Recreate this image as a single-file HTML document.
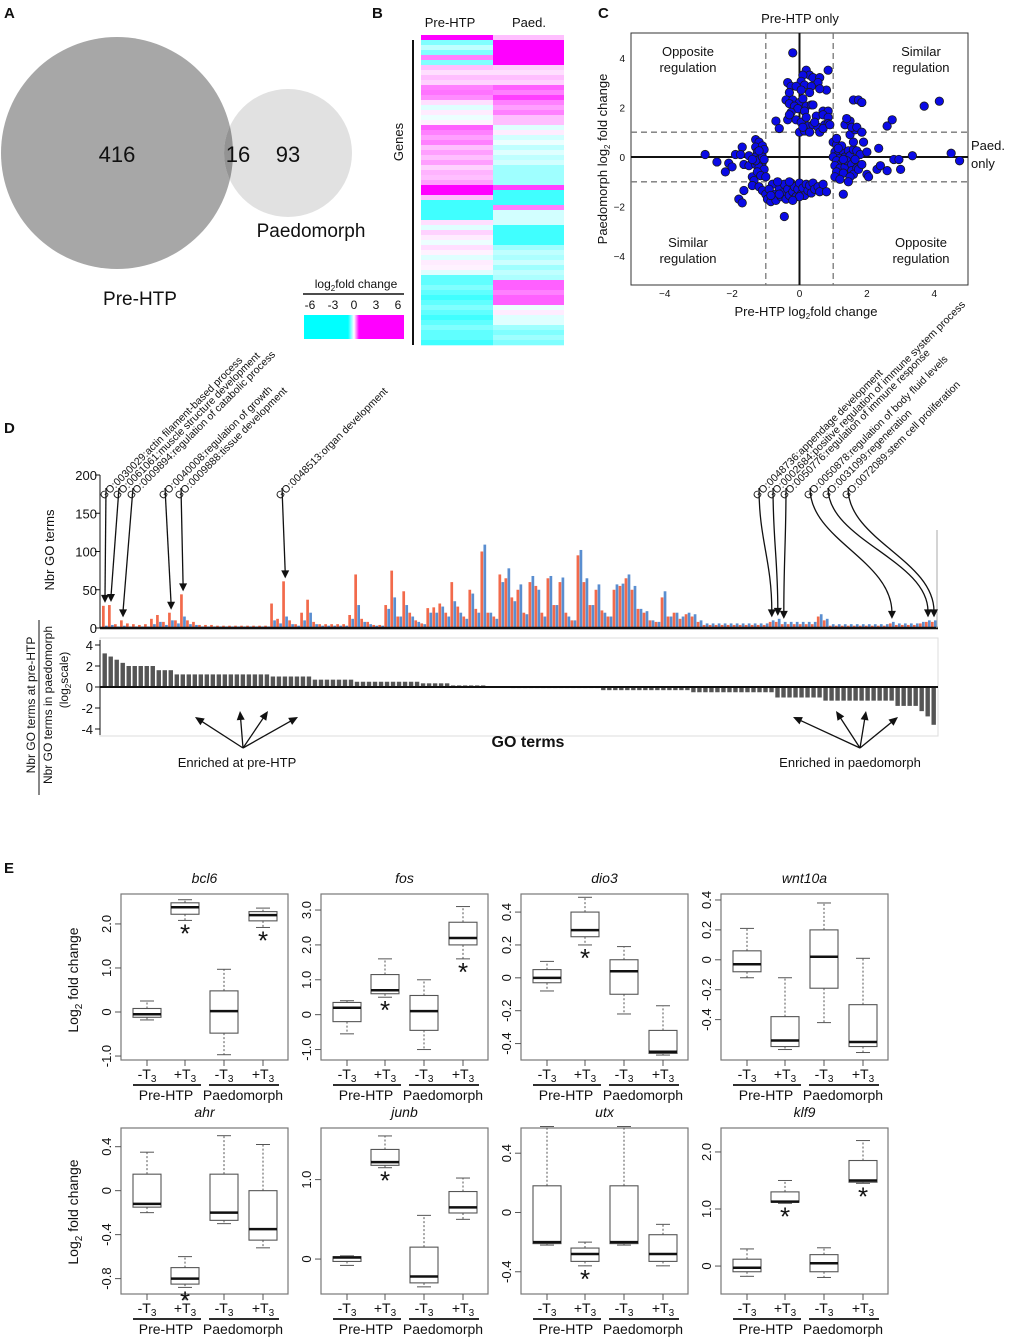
<!DOCTYPE html>
<html><head><meta charset="utf-8"><style>
body{margin:0;background:#fff;}
svg{display:block;font-family:"Liberation Sans",sans-serif;}
text{fill:#111;}
</style></head><body>
<svg id="fig" width="1010" height="1339" viewBox="0 0 1010 1339">
<defs>
<clipPath id="bigclip"><circle cx="117" cy="153" r="116"/></clipPath>
<linearGradient id="cbar" x1="0" x2="1" y1="0" y2="0">
<stop offset="0" stop-color="#00ffff"/><stop offset="0.44" stop-color="#00ffff"/><stop offset="0.5" stop-color="#ffffff"/><stop offset="0.55" stop-color="#ff00ff"/><stop offset="1" stop-color="#ff00ff"/>
</linearGradient>
</defs>
<text x="4" y="18" font-size="15" font-weight="bold">A</text>
<text x="372" y="18" font-size="15" font-weight="bold">B</text>
<text x="598" y="18" font-size="15" font-weight="bold">C</text>
<text x="4" y="433" font-size="15" font-weight="bold">D</text>
<text x="4" y="873" font-size="15" font-weight="bold">E</text>

<g>
<circle cx="117" cy="153" r="116" fill="#a7a7a7"/>
<circle cx="288" cy="153" r="64" fill="#e1e1e1"/>
<circle cx="288" cy="153" r="64" fill="#939393" clip-path="url(#bigclip)"/>
<text x="117" y="162" font-size="22" text-anchor="middle">416</text>
<text x="238" y="162" font-size="22" text-anchor="middle">16</text>
<text x="288" y="162" font-size="22" text-anchor="middle">93</text>
<text x="311" y="237" font-size="19" text-anchor="middle">Paedomorph</text>
<text x="140" y="305" font-size="19" text-anchor="middle">Pre-HTP</text>
</g>

<text x="450" y="27" font-size="13" text-anchor="middle">Pre-HTP</text>
<text x="529" y="27" font-size="13" text-anchor="middle">Paed.</text>
<line x1="413" y1="40" x2="413" y2="345" stroke="#111" stroke-width="2"/>
<text transform="translate(403,142) rotate(-90)" font-size="13" text-anchor="middle">Genes</text>
<g id="heatmap"></g>
<text x="356" y="288" font-size="12" text-anchor="middle">log<tspan font-size="8" dy="3">2</tspan><tspan dy="-3">fold change</tspan></text>
<line x1="303" y1="294" x2="404" y2="294" stroke="#111" stroke-width="1.5"/>
<g font-size="12" text-anchor="middle">
<text x="310" y="309">-6</text><text x="333" y="309">-3</text><text x="354" y="309">0</text><text x="376" y="309">3</text><text x="398" y="309">6</text>
</g>
<rect x="304" y="315" width="100" height="24" fill="url(#cbar)"/>

<text x="800" y="23" font-size="13" text-anchor="middle">Pre-HTP only</text>
<text x="971" y="150" font-size="13">Paed.</text>
<text x="971" y="168" font-size="13">only</text>
<text x="806" y="316" font-size="13" text-anchor="middle">Pre-HTP log<tspan font-size="8" dy="3">2</tspan><tspan dy="-3">fold change</tspan></text>
<text transform="translate(607,159) rotate(-90)" font-size="13" text-anchor="middle">Paedomorph log<tspan font-size="8" dy="3">2</tspan><tspan dy="-3"> fold change</tspan></text>
<g font-size="13" text-anchor="middle">
<text x="688" y="56">Opposite</text><text x="688" y="72">regulation</text>
<text x="921" y="56">Similar</text><text x="921" y="72">regulation</text>
<text x="688" y="247">Similar</text><text x="688" y="263">regulation</text>
<text x="921" y="247">Opposite</text><text x="921" y="263">regulation</text>
</g>
<g id="scatter"></g>

<text transform="translate(54,550) rotate(-90)" font-size="13" text-anchor="middle">Nbr GO terms</text>
<g font-size="12" text-anchor="middle">
<text transform="translate(35,705) rotate(-90)">Nbr GO terms at pre-HTP</text>
<line x1="39" y1="620" x2="39" y2="795" stroke="#111" stroke-width="1"/>
<text transform="translate(52,705) rotate(-90)">Nbr GO terms in paedomorph</text>
<text transform="translate(68,680) rotate(-90)">(log<tspan font-size="8" dy="3">2</tspan><tspan dy="-3">scale)</tspan></text>
</g>
<g id="gochart"></g>
<text x="528" y="747" font-size="16" font-weight="bold" text-anchor="middle">GO terms</text>
<text x="237" y="767" font-size="13" text-anchor="middle">Enriched at pre-HTP</text>
<text x="850" y="767" font-size="13" text-anchor="middle">Enriched in paedomorph</text>

<text transform="translate(78,980) rotate(-90)" font-size="14" text-anchor="middle">Log<tspan font-size="10" dy="4">2</tspan><tspan dy="-4"> fold change</tspan></text>
<text transform="translate(78,1212) rotate(-90)" font-size="14" text-anchor="middle">Log<tspan font-size="10" dy="4">2</tspan><tspan dy="-4"> fold change</tspan></text>
<g id="boxes"></g>
</svg>
<script>
const heatPre = [4,-2,-1,-2,2,-2,1,0.5,1,0.7,2,2.2,1.8,0.5,-0.5,0.3,-0.3,0.2,2.5,2,1.5,2,1,1.5,1,1.5,0.7,1.2,1,1.5,4,4,1,-3,-3,-3,-3,0.5,-0.5,0.7,0.3,-0.3,0.5,0.2,-0.5,0.3,0.2,-0.5,-2.5,-2.5,-2,-2.5,-3,-2.5,-2,-2.5,-3,-2.5,-2,-2.5,-2.5,-3];
const heatPaed = [1,4,4,4,4,4,0.8,0.5,1,0.7,2.5,2,3,2,1.5,2,1,1,-0.5,0.3,-0.7,-0.3,-1,-0.5,-1,-0.7,-1.5,-1.5,-1.5,-1.5,3,-3,-3,-3,2,-0.7,-0.7,-0.7,-3,-3,-3,-3,-1.5,-1,-1.3,-0.8,-1.5,-1,-1.3,2.5,2.5,2,2.5,2.5,-0.3,0.3,-0.5,-0.5,-1.5,-2,-1.5,-2];

const scatterX = [-0.2,0.2,0.85,0.3,0.1,0.4,0.6,-0.35,0.05,0.55,-0.25,-0.1,0.15,0.35,0.8,-0.3,0.05,0.3,0.6,-0.4,-0.2,0,0.1,-0.3,-0.15,0.2,0.35,-0.05,-0.25,0.15,0.4,0.7,0.85,-0.7,-0.35,-0.1,0.05,0.2,0.5,0.7,0.85,-0.6,0.25,0.4,0.55,0.75,0.85,0,0.15,0.3,0.6,0.7,0.9,0.1,0.45,-0.3,
-2.8,-2.45,-2.2,-2.1,-2,-1.9,-1.7,-1.75,-1.65,-1.5,-1.5,-1.4,-1.35,-1.8,-1.7,-1.65,-1.3,-1.2,-1.3,-1.1,-1.25,-1.15,-1.05,-1.3,-1.2,-1.1,-1.3,-1.2,-1.05,-1.25,-1.15,-1,-1.3,-1.1,-1.2,-1.05,-1.4,
-1.4,-1.2,-1.1,-1,-0.95,-0.85,-0.75,-0.7,-0.6,-0.55,-0.5,-0.45,-0.4,-0.35,-0.3,-0.25,-0.2,-0.15,-0.1,-0.05,0,0.05,0.1,0.15,0.2,0.25,0.3,0.35,0.4,0.45,0.55,0.6,0.7,0.8,-0.8,-0.65,-0.9,-0.45,-0.3,-0.6,0,-0.85,-0.2,
1,1.1,1.2,1.05,1.15,1.3,1,1.2,1.35,1.1,1.25,1.05,1.2,1.35,1.1,1.3,1.05,1.2,1.45,1.5,1.4,1.55,1.6,1.7,1.8,1.65,1.55,1.7,1.6,1.5,1.45,1.3,1.9,2,2,2.05,1.75,1.85,1.6,1.5,1.65,1.35,1.5,1.4,1.55,1.7,1.85,1.6,1.75,1.85,2.3,2.35,2.4,2.6,2.6,2.75,2.8,2.95,3,3.35,3.7,4.15,4.5,4.75,1.25,1.15,1.3,1.1];
const scatterY = [4.2,3.5,3.5,3.3,3.3,3.2,3.2,3,3.05,3,2.85,2.85,2.9,2.85,2.7,2.6,2.7,2.6,2.75,2.3,2.3,2.2,2.35,2.15,2.05,2.05,2.1,1.95,1.8,1.85,2.1,1.85,1.85,1.45,1.5,1.5,1.4,1.6,1.65,1.7,1.6,1.15,1.25,1.3,1.2,1.3,1.35,1,1.05,1,1,1.15,1.3,1.2,1.4,1.7,
0.1,-0.2,-0.6,-0.25,-0.4,0.1,0.4,0.1,-0.3,-0.35,0.05,-0.8,-0.95,-1.7,-1.85,-1.35,0.7,0.6,0.4,0.45,0.2,0.1,0.3,0,-0.1,-0.2,-0.3,-0.4,-0.5,-0.6,-0.75,-0.8,-0.15,0,0.25,-0.1,-0.1,
-1.15,-1.2,-1.35,-1.5,-1.7,-1.8,-1.5,-1.75,-1.25,-1.6,-1.45,-1.1,-1.7,-1.3,-1.55,-1.05,-1.4,-1.2,-1.6,-1.3,-1.05,-1.5,-1.25,-1.55,-1.1,-1.35,-1.15,-1.45,-1.05,-1.3,-1.2,-1.4,-1.1,-1.4,-1.1,-1,-1.3,-2.4,-1,-1.5,-1.6,-1.55,-1.75,
0.6,0.5,0.3,0.2,0.1,0.2,0,-0.05,0,-0.15,-0.25,-0.35,-0.45,-0.4,-0.6,-0.65,-0.8,-0.9,0.25,0.05,-0.15,-0.3,0.3,0.25,0.1,-0.1,-0.55,-0.45,-0.7,-0.8,-1,-1.5,0.6,0.2,-0.7,-0.8,-0.5,-0.3,0.6,0.9,1.1,1.3,1.45,1.55,1.2,1.2,1,2.3,2.3,2.2,-0.5,0.35,-0.35,-0.55,1.25,1.5,-0.1,-0.1,-0.5,0.05,2.05,2.25,0.15,-0.15,0.45,0.35,-0.1,0.75];
const scatterTicks = [-4,-2,0,2,4];

const goOrange = [29,30,5,10,6,5,4,5,12,17,8,20,10,44,10,8, 4,4,4,3,3,3,3,3,3,3,3,3, 32,12,61,10,5,20,37,8, 5,5,5,5,5, 17,70,12,8,4,4, 30,75,15,48,20,10,6,26,27,32,20,60,28,15,50,25, 100,20,15,70,65,40,50,20,60,55,20,65,30,60,20,10, 95,60,30,50,23,15,50,55,65,50,25,20,10,8,40,15,20,12,18,15,8, 4,4,4,4,4,4,4,4,4,4,4, 8,8,5,5,5,5,5,5, 15,10, 3,3,3,3,3,3,3,3,3,3, 6,4,4,4,4,6,8,8];
const goBlue = [3,4,2,3,2,2,2,2,5,8,4,10,6,15,5,4, 2,2,2,2,2,2,2,2,2,2,2,2, 10,6,15,5,3,10,20,5, 3,3,3,3,3, 12,30,8,5,3,3, 25,40,15,30,15,8,5,20,20,28,15,35,20,12,45,20, 109,20,12,60,78,35,57,18,68,50,15,68,30,66,15,10, 102,65,30,57,20,15,57,58,70,55,25,22,10,8,48,15,20,15,20,18,10, 6,6,6,6,6,6,6,6,6,6,6, 10,12,8,8,8,8,8,8, 18,12, 5,5,5,5,5,5,5,5,5,5, 8,6,6,6,6,8,10,10];
const goRatio = [3.2,2.9,2.6,2.3,2,2,2,2,2, 1.6,1.6,1.6, 1.2,1.2,1.2,1.2,1.2,1.2,1.2,1.2,1.2,1.2,1.2,1.2,1.2,1.2,1.2,1.2, 1,1,1,1,1,1,1, 0.7,0.7,0.7,0.7,0.7,0.7,0.7, 0.5,0.5,0.5,0.5,0.5,0.5,0.5,0.5,0.5,0.5,0.5, 0.35,0.35,0.35,0.35,0.35, 0.15,0.15,0.15,0.15,0.15,0.15, 0.03,0.03,0.03,0.03, -0.1,-0.1,-0.1,-0.1,-0.1,-0.1,-0.1,-0.1,-0.1,-0.1,-0.1,-0.1,-0.1,-0.1,-0.1, -0.3,-0.3,-0.3,-0.3,-0.3,-0.3,-0.3,-0.3,-0.3,-0.3,-0.3,-0.3,-0.3,-0.3,-0.3, -0.5,-0.5,-0.5,-0.5,-0.5,-0.5,-0.5,-0.5,-0.5,-0.5,-0.5,-0.5,-0.5,-0.5, -1,-1,-1,-1,-1,-1,-1,-1, -1.3,-1.3,-1.3,-1.3,-1.3,-1.3,-1.3,-1.3,-1.3,-1.3,-1.3,-1.3, -1.8,-1.8,-1.8,-1.8, -2.3,-2.8,-3.6];
const goCountTicks = [0,50,100,150,200];
const goRatioTicks = [-4,-2,0,2,4];
const goLabels = ["GO:0030029:actin filament-based process","GO:0061061:muscle structure development","GO:0009894:regulation of catabolic process","GO:0040008:regulation of growth","GO:0009888:tissue development","GO:0048513:organ development","GO:0048736:appendage development","GO:0002684:positive regulation of immune system process","GO:0050776:regulation of immune response","GO:0050878:regulation of body fluid levels","GO:0031099:regeneration","GO:0072089:stem cell proliferation"];
const goLabelIndex = [0,1,3,11,13,30,111,112,113,131,137,138];

const boxGenes = ["bcl6","fos","dio3","wnt10a","ahr","junb","utx","klf9"];
const boxYlim = [[-1.09,2.68],[-1.3,3.46],[-0.5,0.51],[-0.67,0.44],[-0.94,0.57],[-0.44,1.65],[-0.55,0.57],[-0.49,2.42]];
const boxTicks = [[-1,0,1,2],[-1,0,1,2,3],[-0.4,-0.2,0,0.2,0.4],[-0.4,-0.2,0,0.2,0.4],[-0.8,-0.4,0,0.4],[0,1],[-0.4,0,0.4],[0,1,2]];
const boxTickLabels = [["-1.0","0","1.0","2.0"],["-1.0","0","1.0","2.0","3.0"],["-0.4","-0.2","0","0.2","0.4"],["-0.4","-0.2","0","0.2","0.4"],["-0.8","-0.4","0","0.4"],["0","1.0"],["-0.4","0","0.4"],["0","1.0","2.0"]];
const boxStats = [
 [[-0.18,-0.12,-0.05,0.08,0.25],[2.08,2.22,2.38,2.48,2.55],[-0.97,-0.48,0.02,0.48,0.97],[1.92,2.07,2.2,2.28,2.36]],
 [[-0.55,-0.2,0.2,0.35,0.4],[0.5,0.6,0.7,1.15,1.6],[-1,-0.45,0.1,0.55,1],[1.6,2,2.2,2.65,3.1]],
 [[-0.08,-0.03,0,0.05,0.1],[0.2,0.25,0.29,0.4,0.49],[-0.22,-0.1,0.04,0.11,0.19],[-0.47,-0.46,-0.45,-0.32,-0.17]],
 [[-0.12,-0.08,-0.03,0.06,0.21],[-0.6,-0.58,-0.54,-0.38,-0.12],[-0.42,-0.19,0.02,0.2,0.38],[-0.62,-0.58,-0.55,-0.3,0.01]],
 [[-0.2,-0.15,-0.12,0.15,0.35],[-0.88,-0.85,-0.8,-0.7,-0.6],[-0.3,-0.27,-0.2,0.15,0.5],[-0.52,-0.45,-0.35,0,0.42]],
 [[-0.08,-0.03,0.02,0.03,0.04],[1.15,1.18,1.22,1.38,1.55],[-0.35,-0.3,-0.22,0.15,0.55],[0.5,0.58,0.65,0.85,1.02]],
 [[-0.22,-0.21,-0.2,0.18,0.58],[-0.36,-0.33,-0.28,-0.24,-0.2],[-0.22,-0.21,-0.2,0.18,0.58],[-0.36,-0.33,-0.28,-0.15,-0.08]],
 [[-0.18,-0.1,-0.03,0.12,0.3],[1.1,1.12,1.13,1.3,1.5],[-0.2,-0.1,0.05,0.2,0.32],[1.45,1.47,1.5,1.85,2.2]]];
const boxStars = [[1,3],[1,3],[1],[],[1],[1],[1],[1,3]];

const NS="http://www.w3.org/2000/svg";
function mk(parent, tag, attrs, txt){const e=document.createElementNS(NS,tag);for(const k in attrs)e.setAttribute(k,attrs[k]);if(txt!==undefined)e.textContent=txt;parent.appendChild(e);return e;}
function heatColor(v){const t=Math.min(Math.abs(v)/4,1);const c=Math.round(255*(1-t));return v>=0?`rgb(255,${c},255)`:`rgb(${c},255,255)`;}

const hm=document.getElementById('heatmap');
const rowH=310/heatPre.length;
heatPre.forEach((v,i)=>{
 const r=mk(hm,'rect',{x:421,y:35+i*rowH,width:72,height:rowH+0.3,fill:heatColor(v)});
 
 
});
heatPaed.forEach((v,i)=>{
 const r=mk(hm,'rect',{x:493,y:35+i*rowH,width:71,height:rowH+0.3,fill:heatColor(v)});
 
 
});

const sc=document.getElementById('scatter');
const sx=v=>799.5+v*33.7, sy=v=>157-v*24.8;
const frame=mk(sc,'rect',{x:631,y:33,width:337,height:252,fill:'none',stroke:'#333','stroke-width':1});


[-1,1].forEach(v=>{
 const l1=mk(sc,'line',{x1:sx(v),x2:sx(v),y1:33,y2:285,stroke:'#777','stroke-dasharray':'6,4','stroke-width':1.3});
 
 
 const l2=mk(sc,'line',{x1:631,x2:968,y1:sy(v),y2:sy(v),stroke:'#777','stroke-dasharray':'6,4','stroke-width':1.3});
 
 
});
const ax0=mk(sc,'line',{x1:sx(0),x2:sx(0),y1:33,y2:285,stroke:'#111','stroke-width':2});


const ay0=mk(sc,'line',{x1:631,x2:968,y1:sy(0),y2:sy(0),stroke:'#111','stroke-width':2});


scatterTicks.forEach(t=>{
 const tx=mk(sc,'text',{x:sx(t),y:297,'font-size':10,'text-anchor':'middle'},t<0?'\u2212'+(-t):String(t));
 
 
 const ty=mk(sc,'text',{x:625,y:sy(t)+4,'font-size':10,'text-anchor':'end'},t<0?'\u2212'+(-t):String(t));
 
 
});
scatterX.forEach((x,i)=>{
 const c=mk(sc,'circle',{cx:sx(x),cy:sy(scatterY[i]),r:4.2,fill:'#0a0ae6',stroke:'#1a1a1a','stroke-width':0.8});
 
 
});

const gc=document.getElementById('gochart');
const x0=102, bw=835/goOrange.length;
const cy=v=>628-v*0.765, ry=v=>687-v*10.5;
const yax=mk(gc,'line',{x1:100,x2:100,y1:475,y2:628,stroke:'#111','stroke-width':1});


goCountTicks.forEach(t=>{
 const tl=mk(gc,'line',{x1:95,x2:100,y1:cy(t),y2:cy(t),stroke:'#111'});
 
 
 const tt=mk(gc,'text',{x:97,y:cy(t)+5,'font-size':13,'text-anchor':'end'},String(t));
 
 
});
goOrange.forEach((v,i)=>{
 const b=mk(gc,'rect',{x:x0+i*bw,y:cy(v),width:bw*0.45,height:v*0.765,fill:'#f26a4b'});
 
 
 const b2=mk(gc,'rect',{x:x0+i*bw+bw*0.5,y:cy(goBlue[i]),width:bw*0.45,height:goBlue[i]*0.765,fill:'#5a8ed0'});
 
 
});
const base=mk(gc,'line',{x1:100,x2:938,y1:628,y2:628,stroke:'#111','stroke-width':2.5});


const rgl=mk(gc,'line',{x1:937,x2:937,y1:530,y2:628,stroke:'#aaa','stroke-width':1});


const rframe=mk(gc,'rect',{x:100,y:638,width:838,height:98,fill:'none',stroke:'#ddd','stroke-width':1});


const rax=mk(gc,'line',{x1:100,x2:100,y1:640,y2:735,stroke:'#111','stroke-width':1});


goRatioTicks.forEach(t=>{
 const tl=mk(gc,'line',{x1:95,x2:100,y1:ry(t),y2:ry(t),stroke:'#111'});
 
 
 const tt=mk(gc,'text',{x:93,y:ry(t)+5,'font-size':13,'text-anchor':'end'},String(t));
 
 
});
goRatio.forEach((v,i)=>{
 const b=mk(gc,'rect',{x:x0+i*bw+0.5,y:Math.min(ry(v),ry(0)),width:bw-1.6,height:Math.abs(v)*10.5,fill:'#555'});
 
 
});
const rbase=mk(gc,'line',{x1:100,x2:938,y1:687,y2:687,stroke:'#111','stroke-width':2});


const labelX=[104,117,131,163,179,280,757,771,784,808,826,846];
goLabels.forEach((s,k)=>{
 const t=mk(gc,'text',{transform:`translate(${labelX[k]},500) rotate(-45)`,'font-size':10.5},s);
 
 
 const idx=goLabelIndex[k];
 const tipX=x0+idx*bw+bw/2, tipY=Math.min(cy(goOrange[idx]),cy(goBlue[idx]))-3;
 const sxp=labelX[k]+2;
 const d=k<6?`M${sxp},488 L${tipX},${tipY-6}`:`M${sxp},488 C${sxp},540 ${tipX},560 ${tipX},${tipY-6}`;
 const p=mk(gc,'path',{d:d,fill:'none',stroke:'#111','stroke-width':1.3});
 
 
 const h=mk(gc,'path',{d:`M${tipX-4},${tipY-8} L${tipX+4},${tipY-8} L${tipX},${tipY} Z`,fill:'#111'});
 
 
});
[[243,748,[[195,717],[240,711],[268,711],[298,717]]],[860,748,[[793,717],[836,711],[866,711],[898,717]]]].forEach(g=>{
 g[2].forEach(pt=>{
  const dx=pt[0]-g[0], dy=pt[1]-g[1], L=Math.hypot(dx,dy), ux=dx/L, uy=dy/L;
  const l=mk(gc,'line',{x1:g[0],y1:g[1],x2:pt[0]-ux*4,y2:pt[1]-uy*4,stroke:'#111','stroke-width':1.3});
  
  
  const bx=pt[0]-ux*9, by=pt[1]-uy*9;
  const hd=mk(gc,'path',{d:`M${pt[0]},${pt[1]} L${bx-uy*4},${by+ux*4} L${bx+uy*4},${by-ux*4} Z`,fill:'#111'});
  
  
 });
});

const bx=document.getElementById('boxes');
const boxOff=[26,64,103,142];
boxGenes.forEach((g,p)=>{
 const px=121+(p%4)*200, py=p<4?894:1128, W=167, H=166;
 const [y0,y1]=boxYlim[p];
 const ys=v=>py+H-(v-y0)/(y1-y0)*H;
 const grp=mk(bx,'g',{});
 
 
 const fr=mk(grp,'rect',{x:px,y:py,width:W,height:H,fill:'none',stroke:'#777','stroke-width':1.2});
 
 
 const ti=mk(grp,'text',{x:px+W/2,y:py-11,'font-size':14,'font-style':'italic','text-anchor':'middle'},g);
 
 
 boxTicks[p].forEach((t,j)=>{
  const tl=mk(grp,'line',{x1:px-6,x2:px,y1:ys(t),y2:ys(t),stroke:'#555'});
  
  
  const tt=mk(grp,'text',{transform:`translate(${px-10},${ys(t)}) rotate(-90)`,'font-size':13,'text-anchor':'middle'},boxTickLabels[p][j]);
  
  
 });
 boxStats[p].forEach((s,i)=>{
  const c=px+boxOff[i];
  const w1=mk(grp,'line',{x1:c,x2:c,y1:ys(s[3]),y2:ys(s[4]),stroke:'#555','stroke-dasharray':'2,2'});
  
  
  const w2=mk(grp,'line',{x1:c,x2:c,y1:ys(s[1]),y2:ys(s[0]),stroke:'#555','stroke-dasharray':'2,2'});
  
  
  [s[0],s[4]].forEach(v=>{
   const cap=mk(grp,'line',{x1:c-7,x2:c+7,y1:ys(v),y2:ys(v),stroke:'#555'});
   
   
  });
  const r=mk(grp,'rect',{x:c-14,y:ys(s[3]),width:28,height:Math.max(ys(s[1])-ys(s[3]),1),fill:'#fff',stroke:'#555','stroke-width':1.1});
  
  
  const m=mk(grp,'line',{x1:c-14,x2:c+14,y1:ys(s[2]),y2:ys(s[2]),stroke:'#111','stroke-width':2.5});
  
  
  const xt=mk(grp,'line',{x1:c,x2:c,y1:py+H,y2:py+H+6,stroke:'#555'});
  
  
  const xl=mk(grp,'text',{x:c,y:py+H+19,'font-size':14,'text-anchor':'middle'});
  
  
  xl.innerHTML=(i%2?'+T':'-T')+'<tspan font-size="10" dy="3">3</tspan>';
  if(boxStars[p].includes(i)){
   const st=mk(grp,'text',{x:c,y:ys(s[0])+22,'font-size':26,'text-anchor':'middle'},'*');
   
   
  }
 });
 [[px+12,px+80,px+45,'Pre-HTP'],[px+88,px+158,px+122,'Paedomorph']].forEach(u=>{
  const ul=mk(grp,'line',{x1:u[0],x2:u[1],y1:py+H+25,y2:py+H+25,stroke:'#111','stroke-width':1.8});
  
  
  const gl=mk(grp,'text',{x:u[2],y:py+H+40,'font-size':14,'text-anchor':'middle'},u[3]);
  
  
 });
});
</script>
</body></html>
